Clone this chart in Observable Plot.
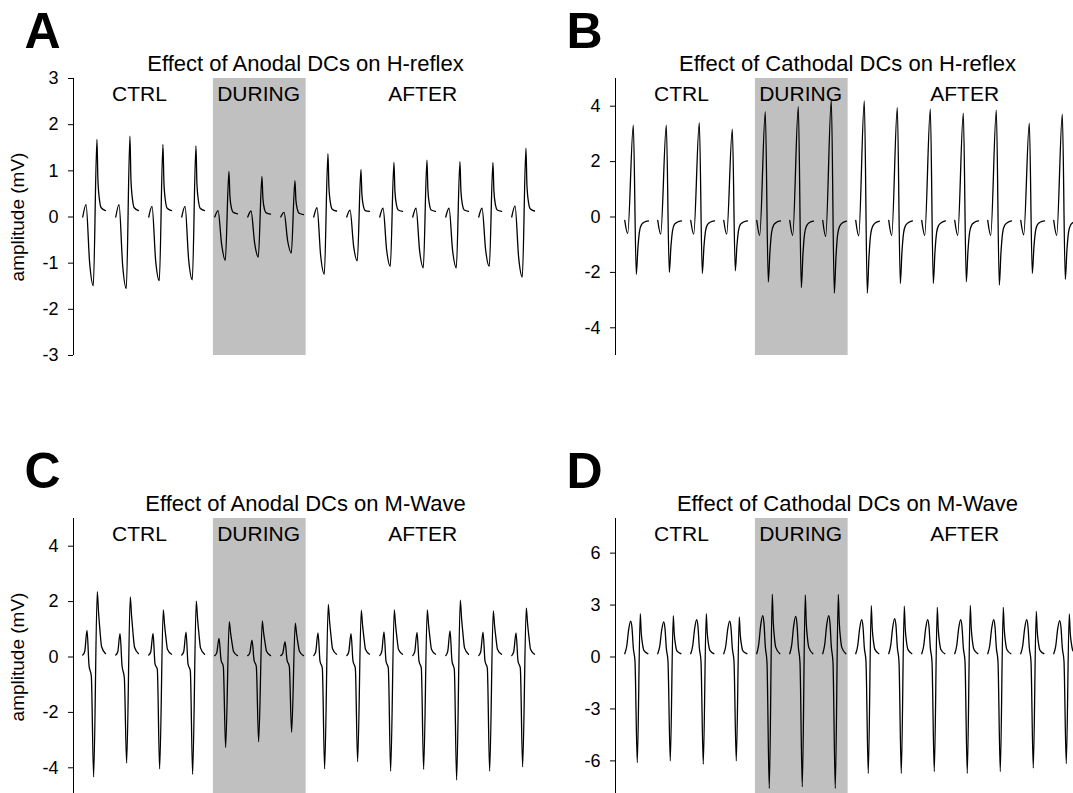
<!DOCTYPE html>
<html><head><meta charset="utf-8">
<script src="https://cdn.jsdelivr.net/npm/d3@7"></script>
<script src="https://cdn.jsdelivr.net/npm/@observablehq/plot@0.6"></script>
<style>
html,body{margin:0;padding:0;background:#fff;overflow:hidden;}
#fig{position:relative;width:1073px;height:793px;overflow:hidden;background:#fff;}
#fig svg{position:absolute;background:transparent;}
</style></head><body><div id="fig"></div>
<script>
// ---- data ----
const phases = ["CTRL", "DURING", "AFTER"];
const phaseCenters = [1.72, 5.33, 10.3];      // in sweep units
const duringSpan = [3.96, 6.77];              // shaded stimulation period (sweep units)
const sweepCount = 14;

// Panel A: anodal DCs, H-reflex  (time offsets within a sweep, amplitudes in mV)
const dxA = [0, 0.10, 0.21, 0.32, 0.43, 0.46, 0.51, 0.56, 0.69];
const rowsA = [
  [0, 0.27, -1.00, -1.49, 1.68, 0.80, 0.36, 0.20, 0.14],
  [0, 0.27, -1.05, -1.55, 1.75, 0.83, 0.37, 0.20, 0.14],
  [0, 0.23, -0.95, -1.38, 1.57, 0.75, 0.33, 0.19, 0.14],
  [0, 0.23, -0.93, -1.36, 1.54, 0.73, 0.33, 0.19, 0.14],
  [0, 0.14, -0.60, -0.94, 0.99, 0.45, 0.18, 0.10, 0.07],
  [0, 0.13, -0.57, -0.87, 0.88, 0.40, 0.16, 0.09, 0.06],
  [0, 0.10, -0.52, -0.78, 0.79, 0.36, 0.15, 0.08, 0.05],
  [0, 0.20, -0.84, -1.24, 1.37, 0.65, 0.29, 0.17, 0.13],
  [0, 0.15, -0.64, -0.95, 1.03, 0.49, 0.22, 0.14, 0.12],
  [0, 0.19, -0.72, -1.07, 1.18, 0.56, 0.25, 0.15, 0.12],
  [0, 0.19, -0.74, -1.10, 1.23, 0.58, 0.26, 0.15, 0.12],
  [0, 0.19, -0.74, -1.10, 1.20, 0.57, 0.25, 0.15, 0.12],
  [0, 0.19, -0.72, -1.07, 1.18, 0.56, 0.25, 0.15, 0.12],
  [0, 0.24, -0.88, -1.30, 1.49, 0.70, 0.31, 0.18, 0.13]
];

// Panel B: cathodal DCs, H-reflex
const dxB = [0, 0.09, 0.26, 0.35, 0.40, 0.45, 0.51, 0.60, 0.72];
const rowsB = [
  [-0.12, -0.60, 3.32, -2.07, -1.10, -0.50, -0.27, -0.18, -0.14],
  [-0.12, -0.62, 3.32, -2.00, -1.06, -0.48, -0.26, -0.18, -0.14],
  [-0.12, -0.62, 3.41, -2.04, -1.08, -0.49, -0.27, -0.18, -0.14],
  [-0.12, -0.62, 3.17, -1.94, -1.03, -0.47, -0.26, -0.18, -0.14],
  [-0.12, -0.66, 3.80, -2.35, -1.25, -0.56, -0.30, -0.19, -0.14],
  [-0.12, -0.66, 3.98, -2.55, -1.35, -0.60, -0.32, -0.20, -0.15],
  [-0.12, -0.70, 4.22, -2.75, -1.46, -0.65, -0.34, -0.21, -0.15],
  [-0.12, -0.68, 4.19, -2.75, -1.46, -0.65, -0.34, -0.21, -0.15],
  [-0.12, -0.66, 3.95, -2.40, -1.27, -0.57, -0.31, -0.20, -0.14],
  [-0.12, -0.66, 3.89, -2.40, -1.27, -0.57, -0.31, -0.20, -0.14],
  [-0.12, -0.66, 3.75, -2.34, -1.24, -0.56, -0.30, -0.19, -0.14],
  [-0.12, -0.66, 3.86, -2.46, -1.30, -0.58, -0.31, -0.20, -0.14],
  [-0.12, -0.64, 3.39, -2.04, -1.08, -0.49, -0.27, -0.18, -0.14],
  [-0.12, -0.66, 3.71, -2.25, -1.19, -0.54, -0.29, -0.19, -0.14]
];

// Panel C: anodal DCs, M-wave
const dxC = [0, 0.06, 0.13, 0.19, 0.26, 0.33, 0.44, 0.48, 0.52, 0.57, 0.69];
const rowsC = [
  [0.07, 0.20, 0.96, -0.30, -0.69, -4.33, 2.36, 1.60, 0.99, 0.38, 0.12],
  [0.07, 0.18, 0.84, -0.30, -0.75, -3.83, 2.17, 1.48, 0.91, 0.35, 0.12],
  [0.07, 0.18, 0.85, -0.25, -0.45, -4.04, 1.70, 1.16, 0.71, 0.27, 0.10],
  [0.07, 0.19, 0.90, -0.25, -0.50, -4.24, 2.02, 1.37, 0.85, 0.32, 0.10],
  [0.05, 0.15, 0.67, -0.10, -0.35, -3.27, 1.28, 0.87, 0.54, 0.20, 0.05],
  [0.05, 0.14, 0.61, -0.10, -0.35, -3.06, 1.30, 0.88, 0.55, 0.21, 0.05],
  [0.05, 0.13, 0.55, -0.10, -0.35, -2.72, 1.22, 0.83, 0.51, 0.20, 0.05],
  [0.05, 0.19, 0.87, -0.15, -0.40, -4.04, 1.90, 1.29, 0.80, 0.30, 0.10],
  [0.05, 0.18, 0.84, -0.15, -0.40, -3.78, 1.68, 1.14, 0.71, 0.27, 0.10],
  [0.05, 0.19, 0.91, -0.15, -0.40, -4.12, 1.70, 1.16, 0.71, 0.27, 0.10],
  [0.05, 0.19, 0.89, -0.15, -0.40, -4.06, 1.70, 1.16, 0.71, 0.27, 0.10],
  [0.05, 0.20, 0.94, -0.15, -0.45, -4.44, 2.05, 1.39, 0.86, 0.33, 0.10],
  [0.05, 0.19, 0.90, -0.15, -0.40, -4.12, 1.66, 1.13, 0.70, 0.27, 0.10],
  [0.05, 0.19, 0.87, -0.15, -0.40, -3.97, 1.76, 1.20, 0.74, 0.28, 0.10]
];

// Panel D: cathodal DCs, M-wave
const dxD = [0, 0.06, 0.12, 0.18, 0.22, 0.26, 0.31, 0.38, 0.47, 0.50, 0.54, 0.58, 0.70];
const rowsD = [
  [0.19, 0.62, 1.60, 2.07, 1.68, 0.52, -0.23, -6.10, 2.50, 1.40, 0.73, 0.38, 0.19],
  [0.19, 0.61, 1.56, 2.03, 1.64, 0.51, -0.23, -6.00, 2.39, 1.34, 0.69, 0.36, 0.19],
  [0.19, 0.65, 1.66, 2.16, 1.75, 0.54, -0.23, -6.20, 2.50, 1.40, 0.73, 0.38, 0.19],
  [0.19, 0.62, 1.60, 2.07, 1.68, 0.52, -0.23, -6.00, 2.31, 1.29, 0.67, 0.35, 0.19],
  [0.19, 0.72, 1.84, 2.39, 1.94, 0.60, -0.30, -7.59, 3.63, 2.03, 1.05, 0.54, 0.19],
  [0.19, 0.70, 1.81, 2.35, 1.90, 0.59, -0.30, -7.50, 3.58, 2.00, 1.04, 0.54, 0.19],
  [0.19, 0.72, 1.84, 2.39, 1.94, 0.60, -0.30, -7.59, 3.61, 2.02, 1.05, 0.54, 0.19],
  [0.19, 0.65, 1.66, 2.16, 1.75, 0.54, -0.25, -6.73, 2.96, 1.66, 0.86, 0.44, 0.19],
  [0.19, 0.67, 1.71, 2.22, 1.80, 0.56, -0.25, -6.73, 2.93, 1.64, 0.85, 0.44, 0.19],
  [0.19, 0.65, 1.66, 2.16, 1.75, 0.54, -0.25, -6.62, 2.87, 1.61, 0.83, 0.43, 0.19],
  [0.19, 0.65, 1.66, 2.16, 1.75, 0.54, -0.25, -6.73, 2.98, 1.67, 0.86, 0.45, 0.19],
  [0.19, 0.65, 1.66, 2.16, 1.75, 0.54, -0.25, -6.62, 2.87, 1.61, 0.83, 0.43, 0.19],
  [0.19, 0.65, 1.66, 2.16, 1.75, 0.54, -0.24, -6.42, 2.64, 1.48, 0.77, 0.40, 0.19],
  [0.19, 0.63, 1.62, 2.10, 1.70, 0.53, -0.23, -6.16, 2.49, 1.39, 0.72, 0.37, 0.19]
];

const panels = [
  {letter: "A", title: "Effect of Anodal DCs on H-reflex", dx: dxA, rows: rowsA, yDomain: [-3, 3], yTicks: [-3, -2, -1, 0, 1, 2, 3], yLabel: "amplitude (mV)", left: 0, top: 0},
  {letter: "B", title: "Effect of Cathodal DCs on H-reflex", dx: dxB, rows: rowsB, yDomain: [-5, 5], yTicks: [-4, -2, 0, 2, 4], yLabel: null, left: 542, top: 0},
  {letter: "C", title: "Effect of Anodal DCs on M-Wave", dx: dxC, rows: rowsC, yDomain: [-5, 5], yTicks: [-4, -2, 0, 2, 4], yLabel: "amplitude (mV)", left: 0, top: 440},
  {letter: "D", title: "Effect of Cathodal DCs on M-Wave", dx: dxD, rows: rowsD, yDomain: [-8, 8], yTicks: [-6, -3, 0, 3, 6], yLabel: null, left: 542, top: 440}
];

// ---- drawing ----
const FONT = "'Liberation Sans', Arial, Helvetica, sans-serif";
const ML = 73, MT = 78, FRAME_H = 277, UNIT = 33;
const xDomain = [-0.28, 14.1];
const fig = document.getElementById("fig");

for (const p of panels) {
  const data = p.rows.slice(0, sweepCount).flatMap((r, i) => r.map((v, j) => ({sweep: i, t: i + p.dx[j], v})));
  const marks = [
    Plot.rect([duringSpan], {x1: d => d[0], x2: d => d[1], fill: "#c0c0c0"}),
    Plot.ruleX([xDomain[0]], {stroke: "#000", strokeWidth: 1}),
    Plot.axisY({ticks: p.yTicks, tickSize: 5, tickPadding: 10, fontSize: 18, tickFormat: d => String(d), label: null, stroke: "#000"}),
    Plot.line(data, {x: "t", y: "v", z: "sweep", stroke: "#000", strokeWidth: 1.3, curve: "monotone-x"}),
    Plot.text(phases, {x: (d, i) => phaseCenters[i], frameAnchor: "top", lineAnchor: "bottom", dy: 22.5, fontSize: 21, text: d => d, fill: "#000"}),
    Plot.text([p.title], {frameAnchor: "top-left", dx: 232, dy: -7.5, textAnchor: "middle", lineAnchor: "bottom", fontSize: 22, fill: "#000"}),
    Plot.text([p.letter], {frameAnchor: "top-left", dx: -49, dy: -31, textAnchor: "start", lineAnchor: "bottom", fontSize: 50, fontWeight: "bold", fill: "#000"})
  ];
  if (p.yLabel) {
    marks.push(Plot.text([p.yLabel], {frameAnchor: "left", dx: -63, rotate: -90, lineAnchor: "top", textAnchor: "middle", fontSize: 19, fill: "#000"}));
  }
  const svg = Plot.plot({
    width: 560,
    height: MT + FRAME_H + 3,
    marginLeft: ML, marginTop: MT, marginBottom: 3, marginRight: 560 - ML - UNIT * (xDomain[1] - xDomain[0]),
    x: {domain: xDomain, range: [ML, ML + UNIT * (xDomain[1] - xDomain[0])], axis: null},
    y: {domain: p.yDomain, range: [MT + FRAME_H, MT], axis: null},
    style: {fontFamily: FONT, background: "transparent", color: "#000", overflow: "visible"},
    marks
  });
  svg.style.left = p.left + "px";
  svg.style.top = p.top + "px";
  svg.style.maxWidth = "none";
  fig.appendChild(svg);
}
</script>
</body></html>
